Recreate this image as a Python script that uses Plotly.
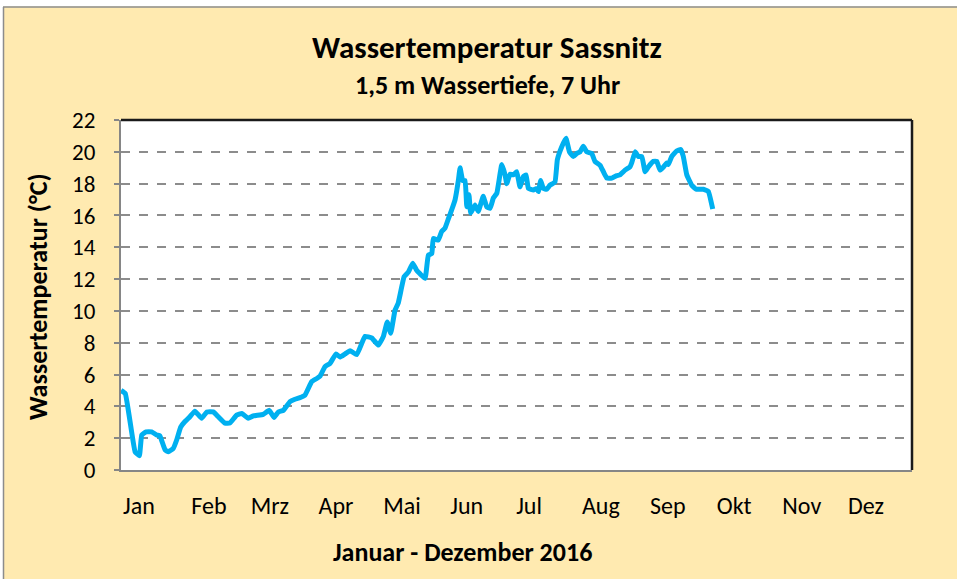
import plotly.graph_objects as go

# Day of year (0 = 1 Jan 2016) and water temperature (°C)
days = [0, 2, 6.5, 8.5, 9.6, 11.6, 14.2, 16.5, 18, 20.4, 21.9, 24.2, 25.8, 27.6, 29.6,
        31.9, 34.2, 37.3, 39.7, 42.7, 45, 48.1, 50.4, 53.5, 55.9, 58.9, 61.2, 65.8,
        68.6, 70.8, 72.8, 75.1, 78.2, 80.5, 82.8, 85.1, 88.2, 90.6, 92.1, 94.4, 96.7,
        99.5, 101.3, 103.7, 106, 109.1, 112.9, 116, 119.1, 121.4, 123.2, 124.8, 126.8,
        128.3, 131, 133, 135, 136.8, 140.7, 142.2, 143.8, 144.5, 146.8, 148.4, 149.9,
        151.5, 153, 154.6, 156.1, 156.9, 158.1, 159.2, 160, 161, 161.8, 163.8, 165.3,
        167.6, 169.2, 170.8, 172.3, 173.9, 176.2, 177.7, 178.5, 180, 181.5, 183.1,
        184.6, 186.2, 187.4, 188.5, 190.8, 192.4, 193.1, 194.2, 195.4, 197, 198.5,
        200.8, 201.9, 203.9, 205.9, 207.5, 209.3, 210.9, 212.4, 213.9, 215.5, 217.8,
        219.3, 221.7, 223.2, 224.8, 227.1, 229.4, 230.9, 233.2, 235.5, 236.3, 237.9,
        239.4, 241, 242.5, 244, 246.3, 247.9, 249.4, 251, 252.5, 253.3, 254.8, 257.1,
        259, 260.2, 261.8, 264.1, 266.1, 269.5, 271.8, 273.8]
temps = [5.0, 4.8, 1.15, 0.9, 2.2, 2.4, 2.4, 2.2, 2.15, 1.26, 1.15, 1.36, 1.9, 2.7, 3.05,
         3.35, 3.7, 3.25, 3.65, 3.65, 3.35, 2.95, 2.95, 3.45, 3.55, 3.25, 3.4, 3.5,
         3.75, 3.3, 3.65, 3.75, 4.3, 4.45, 4.55, 4.7, 5.55, 5.75, 5.9, 6.5, 6.7,
         7.3, 7.1, 7.3, 7.5, 7.25, 8.4, 8.3, 7.85, 8.4, 9.3, 8.6, 10.05,
         10.5, 12.15, 12.45, 13.0, 12.55, 12.05, 13.5, 13.6, 14.55, 14.45, 15.0, 15.2,
         15.8, 16.35, 17.0, 18.2, 19.0, 18.2, 18.2, 16.55, 17.3, 16.15, 16.65, 16.25,
         17.2, 16.55, 16.45, 17.1, 17.4, 19.2, 18.55, 18.0, 18.6, 18.55, 18.75,
         17.8, 18.45, 18.55, 17.7, 17.6, 17.7, 17.5, 18.2, 17.7, 17.65, 17.9,
         18.1, 19.5, 20.3, 20.85, 20.0, 19.7, 19.9, 20.0, 20.35, 20.0, 19.9,
         19.4, 19.15, 18.75, 18.35, 18.35, 18.5, 18.55, 18.85, 19.05, 19.3, 20.0,
         19.7, 19.7, 18.75, 19.05, 19.4, 19.4, 18.85, 19.05, 19.3, 19.2, 19.7, 20.05,
         20.15, 19.7, 18.55, 17.9, 17.65, 17.65, 17.5, 16.4]

month_labels = ["Jan", "Feb", "Mrz", "Apr", "Mai", "Jun", "Jul", "Aug", "Sep", "Okt", "Nov", "Dez"]
month_label_pos = [8.3, 40.7, 68.9, 99.5, 130, 160, 188.8, 222, 253, 283.7, 315, 344.7]
y_ticks = list(range(0, 23, 2))

FONT = "Carlito, Calibri, Lato, 'Open Sans', sans-serif"
BG = "#FFEAB0"

fig = go.Figure()
fig.add_trace(go.Scatter(x=days, y=temps, mode="lines",
                         line=dict(color="#00B0F0", width=5, shape="spline", smoothing=0.3),
                         showlegend=False, hoverinfo="x+y"))

W, H = 957, 579
ml, mr, mt, mb = 121, 45, 120, 109
pw, ph = W - ml - mr, H - mt - mb

def px(xp):
    return (xp - ml) / pw

def py(yp):
    return (H - mb - yp) / ph

fig.update_layout(
    width=W, height=H,
    margin=dict(l=ml, r=mr, t=mt, b=mb, pad=0),
    paper_bgcolor=BG, plot_bgcolor="white",
    font=dict(family=FONT, color="black", size=17),
    xaxis=dict(range=[0, 366], tickvals=month_label_pos, ticktext=month_labels,
               showgrid=False, zeroline=False, showline=True, linecolor="#868686",
               linewidth=2, ticks="", ticklabelstandoff=13,
               tickfont=dict(size=24, family=FONT)),
    yaxis=dict(range=[0, 22], tickvals=y_ticks, showgrid=True, gridcolor="#8C8C8C",
               griddash="dash", gridwidth=1.6, zeroline=False, showline=True,
               linecolor="#868686", linewidth=2, ticks="outside", ticklen=5,
               tickcolor="#868686", tickwidth=1.5, ticklabelstandoff=14,
               tickfont=dict(size=23, family=FONT)),
    shapes=[
        # plot frame top & right
        dict(type="line", xref="paper", yref="paper", x0=0, x1=1, y0=1, y1=1,
             line=dict(color="#1a1a1a", width=2.5)),
        dict(type="line", xref="paper", yref="paper", x0=1, x1=1, y0=0, y1=1,
             line=dict(color="#1a1a1a", width=2.5)),
        # outer white strips and chart-area border
        dict(type="rect", xref="paper", yref="paper", x0=px(-5), x1=px(W + 5),
             y0=py(6.5), y1=py(-5), fillcolor="white", line=dict(width=0), layer="above"),
        dict(type="rect", xref="paper", yref="paper", x0=px(-5), x1=px(3),
             y0=py(H + 5), y1=py(-5), fillcolor="white", line=dict(width=0), layer="above"),
        dict(type="line", xref="paper", yref="paper", x0=px(3), x1=px(W + 5),
             y0=py(7), y1=py(7), line=dict(color="#8C8C8C", width=1.5)),
        dict(type="line", xref="paper", yref="paper", x0=px(3.5), x1=px(3.5),
             y0=py(7), y1=py(H + 5), line=dict(color="#8C8C8C", width=1.5)),
    ],
    annotations=[
        dict(text="<b>Wassertemperatur Sassnitz</b>", xref="paper", yref="paper",
             x=px(487), y=py(47), showarrow=False, xanchor="center", yanchor="middle",
             font=dict(size=31, family=FONT)),
        dict(text="<b>1,5 m Wassertiefe, 7 Uhr</b>", xref="paper", yref="paper",
             x=px(487), y=py(85), showarrow=False, xanchor="center", yanchor="middle",
             font=dict(size=26, family=FONT)),
        dict(text="<b>Wassertemperatur (°C)</b>", xref="paper", yref="paper",
             x=px(38), y=py(297), showarrow=False, xanchor="center", yanchor="middle",
             textangle=-90, font=dict(size=26, family=FONT)),
        dict(text="<b>Januar - Dezember 2016</b>", xref="paper", yref="paper",
             x=px(462), y=py(552), showarrow=False, xanchor="center", yanchor="middle",
             font=dict(size=26, family=FONT)),
    ],
)

fig.write_html("out.html", config={"displayModeBar": False},
               post_script="document.body.style.margin='0px';")
